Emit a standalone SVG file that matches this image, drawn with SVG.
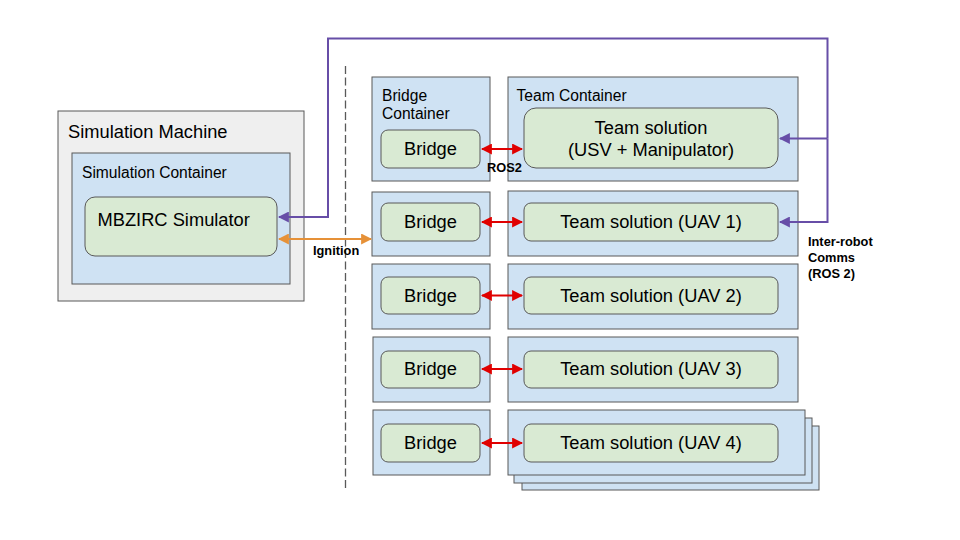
<svg xmlns="http://www.w3.org/2000/svg" width="960" height="540" viewBox="0 0 960 540">
<defs>
<style>
text{font-family:"Liberation Sans",Arial,sans-serif;fill:#000}
.machine{fill:#efefef;stroke:#595959;stroke-width:1}
.cont{fill:#cfe2f3;stroke:#595959;stroke-width:1}
.node{fill:#d9ead3;stroke:#595959;stroke-width:1}
.t18{font-size:18.3px}
.t16{font-size:15.6px}
.lbl{font-size:12.8px;font-weight:bold}
.mid{text-anchor:middle}
.red{stroke:#e00000;stroke-width:2;fill:none}
.pur{stroke:#674ea7;stroke-width:2;fill:none}
.ora{stroke:#e69138;stroke-width:2;fill:none}
</style>
<marker id="ar" viewBox="0 0 10 10" refX="9" refY="5" markerWidth="5.5" markerHeight="5.5" orient="auto-start-reverse" markerUnits="strokeWidth"><path d="M0,0 L10,5 L0,10 z" fill="#e00000"/></marker>
<marker id="ap" viewBox="0 0 10 10" refX="9" refY="5" markerWidth="5.5" markerHeight="5.5" orient="auto-start-reverse" markerUnits="strokeWidth"><path d="M0,0 L10,5 L0,10 z" fill="#674ea7"/></marker>
<marker id="ao" viewBox="0 0 10 10" refX="9" refY="5" markerWidth="5.5" markerHeight="5.5" orient="auto-start-reverse" markerUnits="strokeWidth"><path d="M0,0 L10,5 L0,10 z" fill="#e69138"/></marker>
</defs>
<rect width="960" height="540" fill="#fff"/>

<g id="simulation-machine">
<rect class="machine" x="58" y="111" width="246" height="190"/>
<text class="t18" x="68" y="137.5">Simulation Machine</text>
</g>
<g id="simulation-container">
<rect class="cont" x="72" y="153" width="218" height="131"/>
<text class="t16" x="82" y="178">Simulation Container</text>
</g>
<g id="mbzirc-simulator">
<rect class="node" x="85" y="197" width="192" height="59" rx="10"/>
<text class="t18" x="97.5" y="226">MBZIRC Simulator</text>
</g>

<line id="divider" x1="345.5" y1="66" x2="345.5" y2="490" stroke="#595959" stroke-width="1.3" stroke-dasharray="8,3.5"/>

<g id="bridge-container-1">
<rect class="cont" x="372" y="77" width="118" height="104"/>
<text class="t16" x="382" y="101">Bridge</text>
<text class="t16" x="382" y="119">Container</text>
</g>
<g id="bridge-1">
<rect class="node" x="381" y="130" width="99" height="38" rx="7"/>
<text class="t18 mid" x="430.5" y="154.5">Bridge</text>
</g>
<g id="team-container-1">
<rect class="cont" x="508" y="77" width="290" height="104"/>
<text class="t16" x="516.5" y="100.5">Team Container</text>
</g>
<g id="team-usv">
<rect class="node" x="524" y="108" width="254" height="60" rx="12"/>
<text class="t18 mid" x="651" y="133.5">Team solution</text>
<text class="t18 mid" x="651" y="155.5">(USV + Manipulator)</text>
</g>

<g id="bridge-container-2"><rect class="cont" x="372" y="192" width="118" height="64"/></g>
<g id="bridge-2">
<rect class="node" x="381" y="203" width="99" height="38" rx="7"/>
<text class="t18 mid" x="430.5" y="228">Bridge</text>
</g>
<g id="team-container-2"><rect class="cont" x="508" y="191" width="290" height="65"/></g>
<g id="team-uav1">
<rect class="node" x="524" y="203" width="254" height="38" rx="7"/>
<text class="t18 mid" x="651" y="228">Team solution (UAV 1)</text>
</g>

<g id="bridge-container-3"><rect class="cont" x="372" y="264" width="118" height="65"/></g>
<g id="bridge-3">
<rect class="node" x="381" y="277" width="99" height="37" rx="7"/>
<text class="t18 mid" x="430.5" y="301.5">Bridge</text>
</g>
<g id="team-container-3"><rect class="cont" x="508" y="264" width="290" height="65"/></g>
<g id="team-uav2">
<rect class="node" x="524" y="277" width="254" height="37" rx="7"/>
<text class="t18 mid" x="651" y="301.5">Team solution (UAV 2)</text>
</g>

<g id="bridge-container-4"><rect class="cont" x="373" y="337" width="117" height="65"/></g>
<g id="bridge-4">
<rect class="node" x="381" y="351" width="99" height="37" rx="7"/>
<text class="t18 mid" x="430.5" y="375">Bridge</text>
</g>
<g id="team-container-4"><rect class="cont" x="508" y="337" width="290" height="65"/></g>
<g id="team-uav3">
<rect class="node" x="524" y="351" width="254" height="37" rx="7"/>
<text class="t18 mid" x="651" y="375">Team solution (UAV 3)</text>
</g>

<g id="bridge-container-5"><rect class="cont" x="373" y="410" width="117" height="65"/></g>
<g id="bridge-5">
<rect class="node" x="381" y="424" width="99" height="38" rx="7"/>
<text class="t18 mid" x="430.5" y="448.5">Bridge</text>
</g>
<g id="team-container-5">
<rect class="cont" x="522" y="426" width="297" height="64"/>
<rect class="cont" x="514" y="418" width="298" height="65"/>
<rect class="cont" x="508" y="410" width="297" height="65"/>
</g>
<g id="team-uav4">
<rect class="node" x="524" y="424" width="254" height="38" rx="7"/>
<text class="t18 mid" x="651" y="448.5">Team solution (UAV 4)</text>
</g>

<g id="connectors">
<line class="red" x1="482" y1="149" x2="522" y2="149" marker-start="url(#ar)" marker-end="url(#ar)"/>
<line class="red" x1="482" y1="222" x2="522" y2="222" marker-start="url(#ar)" marker-end="url(#ar)"/>
<line class="red" x1="482" y1="295.5" x2="522" y2="295.5" marker-start="url(#ar)" marker-end="url(#ar)"/>
<line class="red" x1="482" y1="369" x2="522" y2="369" marker-start="url(#ar)" marker-end="url(#ar)"/>
<line class="red" x1="482" y1="443" x2="522" y2="443" marker-start="url(#ar)" marker-end="url(#ar)"/>
<line class="ora" x1="279" y1="239" x2="371" y2="239" marker-start="url(#ao)" marker-end="url(#ao)"/>
<polyline class="pur" points="827.5,138.5 827.5,38.5 328,38.5 328,217 279,217" marker-end="url(#ap)"/>
<polyline class="pur" points="827.5,138.5 780,138.5" marker-end="url(#ap)"/>
<polyline class="pur" points="827.5,138.5 827.5,222 780,222" marker-end="url(#ap)"/>
</g>

<g id="labels">
<text class="lbl" x="313" y="254.5">Ignition</text>
<text class="lbl" x="487" y="171.5">ROS2</text>
<text class="lbl" x="808" y="246">Inter-robot</text>
<text class="lbl" x="808" y="262">Comms</text>
<text class="lbl" x="808" y="278">(ROS 2)</text>
</g>
</svg>
